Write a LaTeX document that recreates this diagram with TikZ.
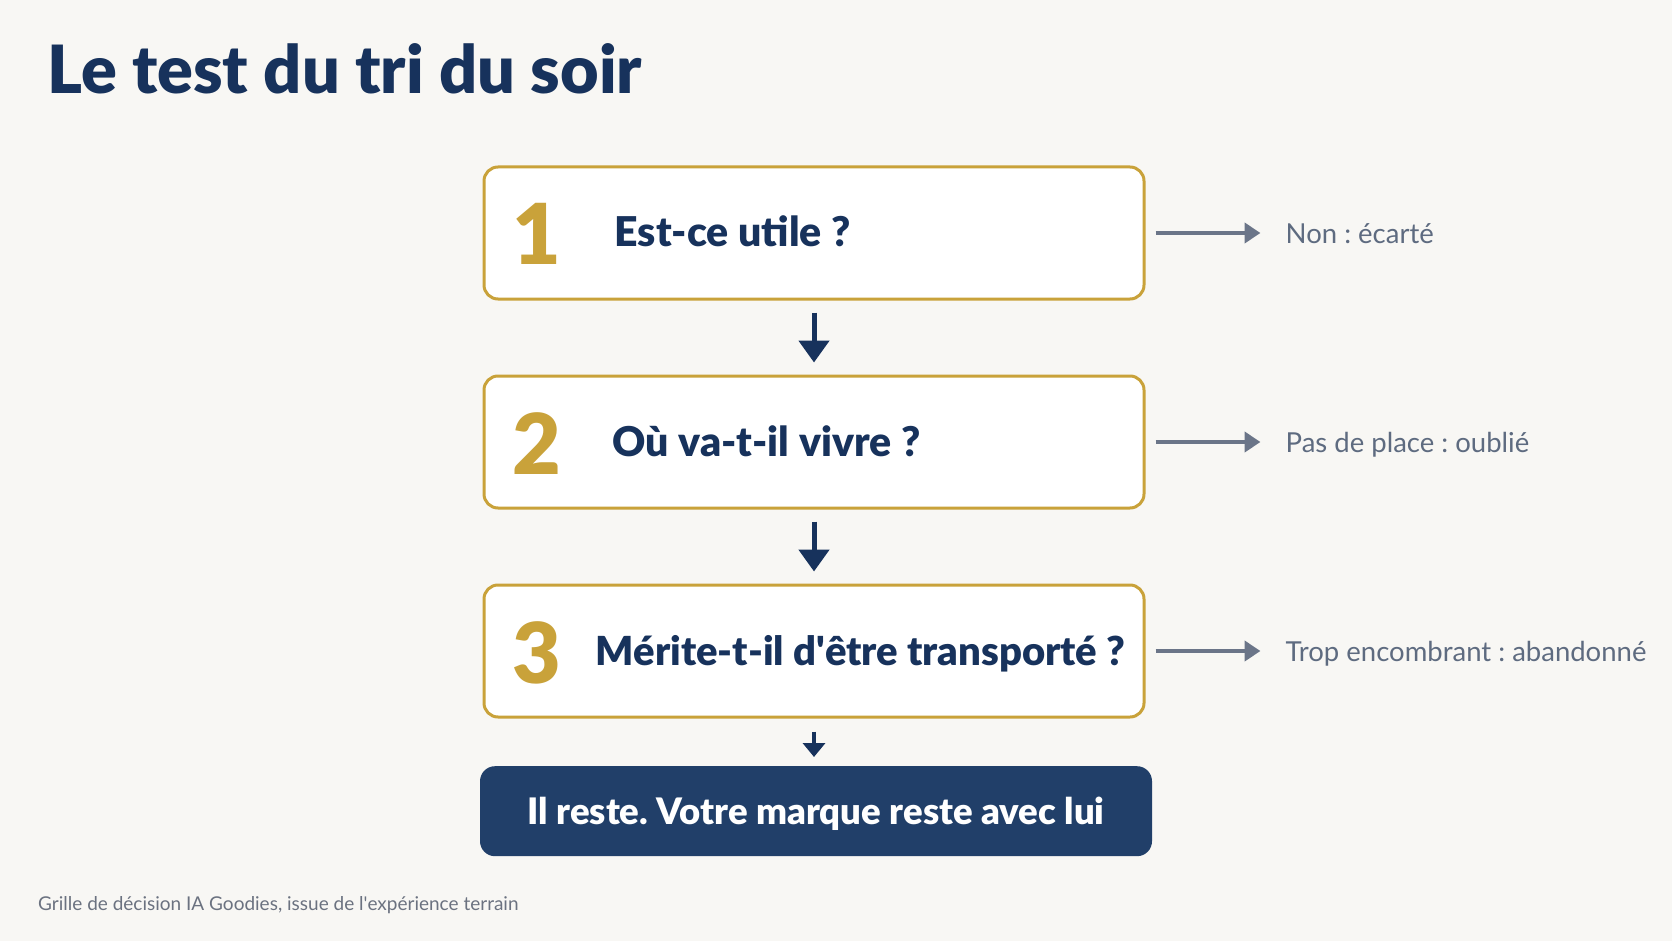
\documentclass[tikz,border=0pt]{standalone}
\usepackage{fontspec}
\setmainfont{Lato}[BoldFont={Lato Black}]
\usetikzlibrary{arrows.meta,positioning}
\definecolor{page-bg}{HTML}{F8F7F4}
\definecolor{navy}{HTML}{17325C}
\definecolor{navy-box}{HTML}{213F69}
\definecolor{gold}{HTML}{C9A23A}
\definecolor{arrow-gray}{HTML}{6B7588}
\definecolor{label-gray}{HTML}{5E6B80}
\definecolor{foot-gray}{HTML}{6B7280}
\frenchspacing
\tikzset{
    step-box/.style = {draw=gold, fill=white, line width=3pt, rectangle, rounded corners=14pt, minimum width=660pt, minimum height=132pt},
    step-num/.style = {text=gold, font=\fontsize{84}{84}\selectfont\bfseries, inner sep=0pt, anchor=base},
    step-text/.style = {text=navy, font=\fontsize{41}{41}\selectfont\bfseries, inner sep=0pt, anchor=base west},
    result-box/.style = {fill=navy-box, text=white, rectangle, rounded corners=15pt, minimum width=672pt, minimum height=90pt, text height=26pt, text depth=0pt, font=\fontsize{36.5}{36.5}\selectfont\bfseries},
    down-arrow/.style = {draw=navy, line width=5pt, -{Triangle[width=30pt,length=22pt]}},
    side-arrow/.style = {draw=arrow-gray, line width=4pt, -{Triangle[width=20pt,length=16pt]}, shorten <=10pt, shorten >=25pt},
    side-label/.style = {text=label-gray, font=\fontsize{27.5}{27.5}\selectfont, inner sep=0pt, text height=21pt, text depth=0pt},
}

\begin{document}
\begin{tikzpicture}[x=1pt,y=-1pt]
\fill[page-bg] (0,0) rectangle (1672,941);
\node[text=navy, font=\fontsize{66.5}{66.5}\selectfont\bfseries, inner sep=0pt, anchor=base west] (title) at (47,94) {Le test du tri du soir};

\node[step-box] (q1) at (814,233) {};
\node[step-box, below=74pt of q1] (q2) {};
\node[step-box, below=74pt of q2] (q3) {};
\node[result-box, below=47.5pt of q3, xshift=2pt] (result) {Il reste. Votre marque reste avec lui};

\node[step-num] (n1) at ([xshift=54pt,yshift=-32pt]q1.west) {1};
\node[step-num] (n2) at ([xshift=54pt,yshift=-32pt]q2.west) {2};
\node[step-num] (n3) at ([xshift=54pt,yshift=-32pt]q3.west) {3};
\node[step-text] (t1) at ([xshift=132pt,yshift=-14pt]q1.west) {Est-ce utile ?};
\node[step-text] (t2) at ([xshift=130pt,yshift=-14pt]q2.west) {Où va-t-il vivre ?};
\node[step-text, font=\fontsize{40}{40}\selectfont\bfseries] (t3) at ([xshift=113pt,yshift=-14pt]q3.west) {Mérite-t-il d\textquotesingle être transporté ?};

\draw[down-arrow, shorten <=12pt, shorten >=12pt] (q1) -- (q2);
\draw[down-arrow, shorten <=12pt, shorten >=12pt] (q2) -- (q3);
\draw[down-arrow, line width=4pt, -{Triangle[width=22pt,length=14pt]}, shorten <=13pt, shorten >=9pt] (q3.south) -- (q3.south |- result.north);

\node[side-label, right=140pt of q1, anchor=west] (no1) {Non : écarté};
\node[side-label, right=140pt of q2, anchor=west] (no2) {Pas de place : oublié};
\node[side-label, right=140pt of q3, anchor=west] (no3) {Trop encombrant : abandonné};
\draw[side-arrow] (q1.east) -- (no1.west);
\draw[side-arrow] (q2.east) -- (no2.west);
\draw[side-arrow] (q3.east) -- (no3.west);

\node[text=foot-gray, font=\fontsize{19}{19}\selectfont, inner sep=0pt, anchor=base west] (note) at (38,910) {Grille de décision IA Goodies, issue de l\textquotesingle expérience terrain};
\end{tikzpicture}
\end{document}
